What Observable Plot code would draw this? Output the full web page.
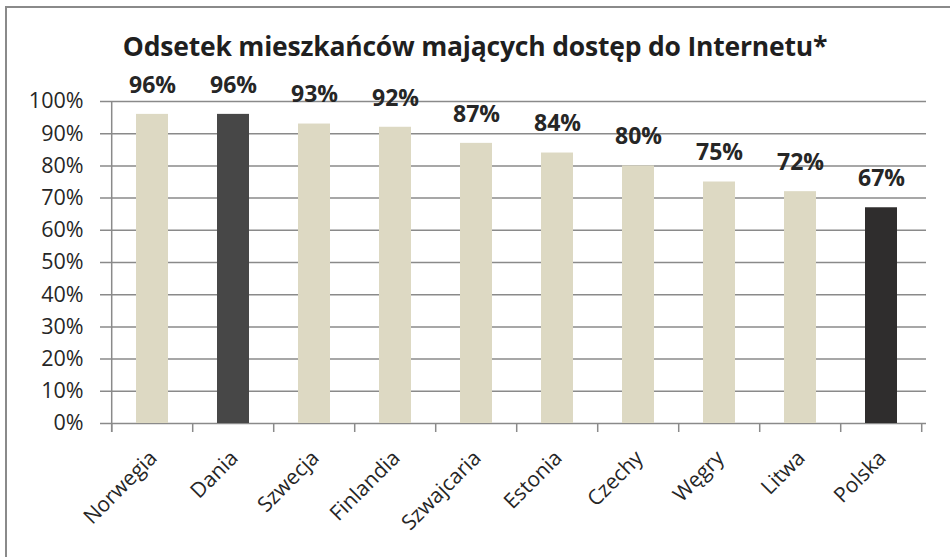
<!DOCTYPE html>
<html>
<head>
<meta charset="utf-8">
<script src="https://cdn.jsdelivr.net/npm/d3@7"></script>
<script src="https://cdn.jsdelivr.net/npm/@observablehq/plot@0.6"></script>
<style>
  html, body { margin: 0; padding: 0; background: #fff; overflow: hidden; }
  #wrap { position: relative; width: 950px; height: 557px; overflow: hidden; font-family: "Open Sans", sans-serif; }
  #frame { position: absolute; left: 5px; top: 6px; width: 980px; height: 600px; border: 2px solid #8a8a8a; box-sizing: border-box; }
  #title { position: absolute; left: 0; top: 28px; width: 950px; text-align: center; font-weight: 700; font-size: 26.5px; line-height: 36px; color: #1f1f1f; letter-spacing: -0.2px; }
  #chart { position: absolute; left: 0; top: 0; }
</style>
</head>
<body>
<div id="wrap">
  <div id="frame"></div>
  <div id="chart"></div>
  <div id="title">Odsetek mieszkańców mających dostęp do Internetu*</div>
</div>
<script>
const countries = ["Norwegia", "Dania", "Szwecja", "Finlandia", "Szwajcaria", "Estonia", "Czechy", "Węgry", "Litwa", "Polska"];
const values = [96, 96, 93, 92, 87, 84, 80, 75, 72, 67];
const yTicks = [0, 10, 20, 30, 40, 50, 60, 70, 80, 90, 100];

const baseColor = "#ddd9c3";
const highlight = {"Dania": "#474747", "Polska": "#2f2d2d"};
const textColor = "#262626";
const lineColor = "#8a8a8a";

const data = countries.map((c, i) => ({country: c, value: values[i]}));

const plot = Plot.plot({
  width: 950,
  height: 557,
  marginLeft: 108,
  marginRight: 24,
  marginTop: 101,
  marginBottom: 134,
  style: {fontFamily: "'Open Sans', sans-serif", color: textColor, background: "transparent", overflow: "visible"},
  x: {domain: countries, paddingInner: 0.6, paddingOuter: 0.3, label: null},
  y: {domain: [0, 100], label: null},
  marks: [
    Plot.ruleY(yTicks, {y: d => d, stroke: lineColor, strokeWidth: 1.5, insetLeft: -8}),
    Plot.barY(data, {x: "country", y: "value", fill: d => highlight[d.country] || baseColor}),
    Plot.text(data, {x: "country", y: "value", text: d => d.value + "%", dy: -29, fontSize: 23, fontWeight: 700, fill: textColor}),
    Plot.axisY(yTicks, {tickSize: 0, tickPadding: 25, tickFormat: d => d + "%", fontSize: 21.5, fill: textColor}),
    Plot.axisX({tickSize: 0, tickPadding: 31, tickRotate: -45, dx: 1, fontSize: 21, fill: textColor})
  ]
});

document.getElementById("chart").appendChild(plot);

// Axis lines and boundary ticks drawn from the plot's own scales
const xs = plot.scale("x");
const ys = plot.scale("y");
const step = xs.step;
const x0 = xs.apply(countries[0]) - xs.paddingOuter * step;
const yBottom = ys.apply(0);
const yTop = ys.apply(100);
const svg = d3.select(plot);
const g = svg.append("g").attr("stroke", lineColor).attr("stroke-width", 1.5);
g.append("line").attr("x1", x0).attr("x2", x0).attr("y1", yTop).attr("y2", yBottom + 9);
d3.range(countries.length + 1).forEach(i => {
  const xx = x0 + i * step;
  g.append("line").attr("x1", xx).attr("x2", xx).attr("y1", yBottom).attr("y2", yBottom + 9);
});
</script>
</body>
</html>
